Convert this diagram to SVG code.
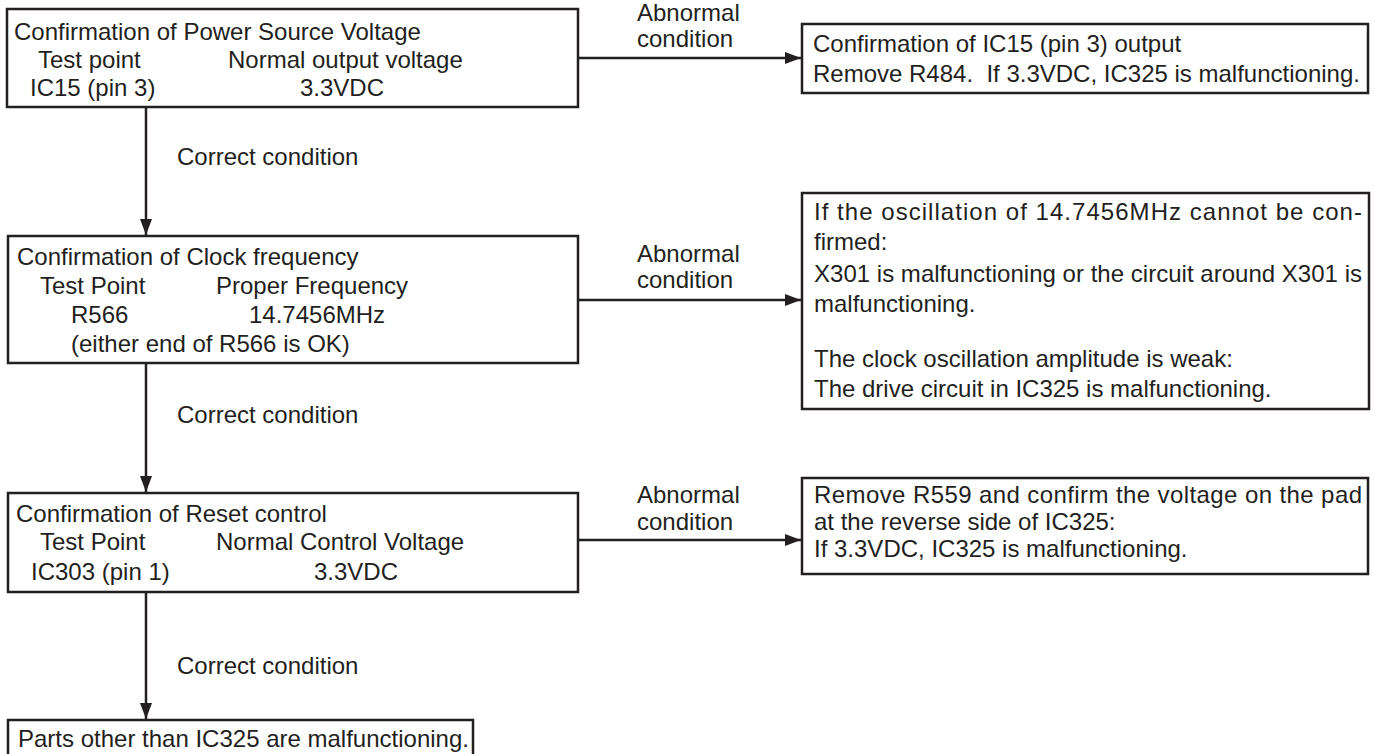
<svg xmlns="http://www.w3.org/2000/svg" width="1375" height="754" viewBox="0 0 1375 754">
<style>
text{font-family:"Liberation Sans",Arial,sans-serif;font-size:24px;fill:#231f20}
.box{fill:#fff;stroke:#231f20;stroke-width:2.5}
.ln{stroke:#231f20;stroke-width:2.5;fill:none}
</style>
<defs>
<marker id="ah" viewBox="0 0 16 12" refX="16" refY="6" markerWidth="16" markerHeight="12" markerUnits="userSpaceOnUse" orient="auto">
<path d="M0,0 L16,6 L0,12 Z" fill="#231f20"/>
</marker>
</defs>
<rect width="1375" height="754" fill="#fff"/>
<g id="connectors">
<line class="ln" x1="578" y1="58" x2="801" y2="58" marker-end="url(#ah)"/>
<line class="ln" x1="578" y1="300" x2="801" y2="300" marker-end="url(#ah)"/>
<line class="ln" x1="578" y1="540" x2="801" y2="540" marker-end="url(#ah)"/>
<line class="ln" x1="146" y1="107" x2="146" y2="235" marker-end="url(#ah)"/>
<line class="ln" x1="146" y1="363" x2="146" y2="492" marker-end="url(#ah)"/>
<line class="ln" x1="146" y1="592" x2="146" y2="719" marker-end="url(#ah)"/>
<text x="637" y="21">Abnormal</text>
<text x="637" y="47">condition</text>
<text x="637" y="262">Abnormal</text>
<text x="637" y="288">condition</text>
<text x="637" y="503">Abnormal</text>
<text x="637" y="530">condition</text>
<text x="177" y="165">Correct condition</text>
<text x="177" y="423">Correct condition</text>
<text x="177" y="674">Correct condition</text>
</g>
<g id="n1">
<rect class="box" x="7" y="9" width="571" height="98"/>
<text x="14" y="40">Confirmation of Power Source Voltage</text>
<text x="38" y="68">Test point</text>
<text x="228" y="68">Normal output voltage</text>
<text x="30" y="96">IC15 (pin 3)</text>
<text x="300" y="96">3.3VDC</text>
</g>
<g id="n2">
<rect class="box" x="8" y="236" width="570" height="127"/>
<text x="17" y="265">Confirmation of Clock frequency</text>
<text x="40" y="294">Test Point</text>
<text x="216" y="294">Proper Frequency</text>
<text x="71" y="323">R566</text>
<text x="249" y="323">14.7456MHz</text>
<text x="71" y="352">(either end of R566 is OK)</text>
</g>
<g id="n3">
<rect class="box" x="8" y="493" width="570" height="99"/>
<text x="16" y="522">Confirmation of Reset control</text>
<text x="40" y="550">Test Point</text>
<text x="216" y="550">Normal Control Voltage</text>
<text x="31" y="580">IC303 (pin 1)</text>
<text x="314" y="580">3.3VDC</text>
</g>
<g id="n4">
<rect class="box" x="8" y="720" width="465" height="50"/>
<text x="18" y="747">Parts other than IC325 are malfunctioning.</text>
</g>
<g id="r1">
<rect class="box" x="802" y="24" width="566" height="69"/>
<text x="813" y="52">Confirmation of IC15 (pin 3) output</text>
<text x="813" y="82" xml:space="preserve">Remove R484.  If 3.3VDC, IC325 is malfunctioning.</text>
</g>
<g id="r2">
<rect class="box" x="802" y="193" width="567" height="216"/>
<text x="814" y="220" textLength="548" lengthAdjust="spacing">If the oscillation of 14.7456MHz cannot be con-</text>
<text x="814" y="250">firmed:</text>
<text x="814" y="282" textLength="548" lengthAdjust="spacing">X301 is malfunctioning or the circuit around X301 is</text>
<text x="814" y="312">malfunctioning.</text>
<text x="814" y="367">The clock oscillation amplitude is weak:</text>
<text x="814" y="397">The drive circuit in IC325 is malfunctioning.</text>
</g>
<g id="r3">
<rect class="box" x="802" y="478" width="566" height="96"/>
<text x="814" y="503" textLength="548" lengthAdjust="spacing">Remove R559 and confirm the voltage on the pad</text>
<text x="814" y="530">at the reverse side of IC325:</text>
<text x="814" y="557">If 3.3VDC, IC325 is malfunctioning.</text>
</g>
</svg>
